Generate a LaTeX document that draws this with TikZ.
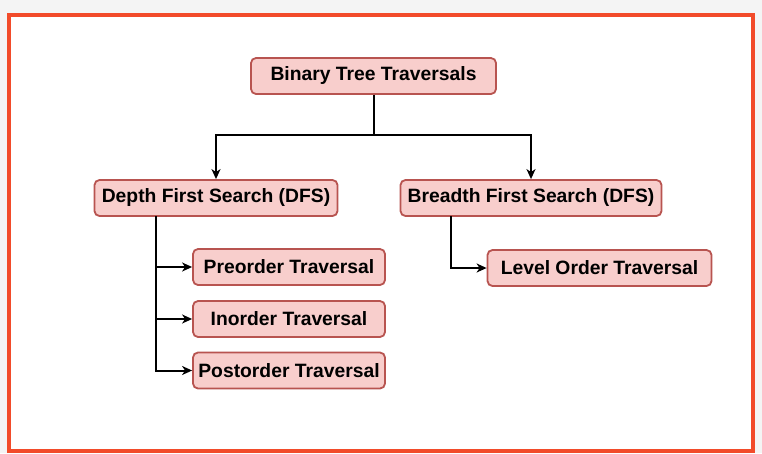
\documentclass[tikz,border=0pt]{standalone}
\usepackage{fontspec}
\setmainfont{Liberation Sans}
\usetikzlibrary{arrows.meta}
\definecolor{boxfill}{HTML}{F8CECC}
\definecolor{boxline}{HTML}{B85450}
\definecolor{frame}{HTML}{F24B2A}
\definecolor{outside}{HTML}{F4F4F4}
\begin{document}
\begin{tikzpicture}[x=1pt,y=-1pt,
  tbox/.style={draw=boxline,fill=boxfill,line width=1.8pt,rounded corners=5pt,
    minimum height=36pt,inner sep=0pt,font=\bfseries\fontsize{19.3}{21}\selectfont},
  conn/.style={line width=2pt,-{Stealth[length=10pt,width=9pt,inset=3pt]}}]
\useasboundingbox (0,0) rectangle (762,453);
\fill[outside] (0,0) rectangle (762,453);
\draw[frame,fill=white,line width=4pt] (9,15) rectangle (753,451);
\node[tbox,minimum width=245pt] (root) at (373.5,76) {Binary Tree Traversals};
\node[tbox,minimum width=243pt] (dfs) at (216,198) {Depth First Search (DFS)};
\node[tbox,minimum width=261pt] (bfs) at (531,198) {Breadth First Search (DFS)};
\node[tbox,minimum width=192pt] (pre) at (289,267) {Preorder Traversal};
\node[tbox,minimum width=192pt] (in) at (289,319) {Inorder Traversal};
\node[tbox,minimum width=192pt] (post) at (289,370.5) {Postorder Traversal};
\node[tbox,minimum width=224pt] (lvl) at (599.5,268) {Level Order Traversal};
\coordinate (j) at (373.5,135);
\draw[conn] (root.south) -- (j) -| (dfs.north);
\draw[conn] (j) -| (bfs.north);
\coordinate (dv) at (156,216);
\draw[conn] (dv) |- (pre.west);
\draw[conn] (dv) |- (in.west);
\draw[conn] (dv) |- (post.west);
\coordinate (bv) at (451,216);
\draw[conn] (bv) |- (lvl.west);
\end{tikzpicture}
\end{document}
